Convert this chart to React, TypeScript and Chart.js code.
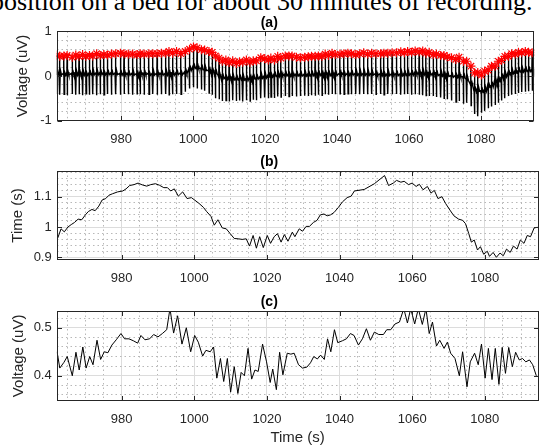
import React, { useEffect, useRef } from "react";
import { Chart, registerables } from "chart.js";

Chart.register(...registerables);

// ---------------- data ----------------
const X_RANGE = [962.1, 1094.8];
const X_TICKS = [980, 1000, 1020, 1040, 1060, 1080];

const A_Y_RANGE = [-1, 1];
const A_Y_TICKS = [-1, 0, 1];
const B_Y_RANGE = [0.891, 1.185];
const B_Y_TICKS = [0.9, 1, 1.1];
const C_Y_RANGE = [0.348, 0.535];
const C_Y_TICKS = [0.4, 0.5];

// beat (R-peak) times, s
const beatTimes = [
  962.2, 962.95, 964.1, 965.0, 966.4, 967.4, 968.3, 969.3, 970.2, 971.2, 972.1, 973.2, 974.2, 975.2, 976.2, 977.3, 978.5, 979.8,
  980.8, 982.0, 983.2, 984.4, 985.3, 986.4, 987.7, 988.8, 990.0, 991.2, 992.4, 993.3, 994.3, 995.4, 996.6, 997.8, 999.0, 1000.1, 1001.1,
  1002.3, 1003.2, 1004.4, 1005.3, 1006.2, 1007.2, 1008.1, 1009.1, 1010.0, 1011.0, 1012.0, 1012.9, 1013.8, 1014.8, 1015.8, 1016.7, 1017.6, 1018.8, 1019.9,
  1020.9, 1021.6, 1022.6, 1023.5, 1024.4, 1025.6, 1026.6, 1027.5, 1028.7, 1029.8, 1031.0, 1032.0, 1032.9, 1033.9, 1034.8, 1035.8, 1036.7, 1037.6, 1038.6, 1039.5,
  1040.8, 1041.9, 1043.0, 1044.0, 1045.2, 1046.3, 1047.4, 1048.5, 1049.6, 1050.8, 1052.1, 1053.0, 1054.1, 1055.3, 1056.5, 1057.7, 1058.7,
  1059.6, 1060.7, 1061.7, 1062.8, 1063.8, 1064.7, 1065.6, 1066.7, 1067.6, 1068.8, 1069.7, 1070.6, 1071.8, 1073.0, 1073.9, 1075.1, 1076.0, 1077.2, 1078.2, 1079.1,
  1080.1, 1081.0, 1082.0, 1082.9, 1083.9, 1084.8, 1085.7, 1086.6, 1087.6, 1088.5, 1089.5, 1090.4, 1091.3, 1092.3, 1093.2, 1094.2,
];

// (a) ECG: R-peak value (red *), baseline level, S-trough per beat, uV
const aPeak = [
  0.47, 0.44, 0.45, 0.46, 0.42, 0.47, 0.44, 0.48, 0.44, 0.46, 0.45, 0.5, 0.46, 0.48, 0.47, 0.49, 0.5, 0.51,
  0.5, 0.49, 0.49, 0.48, 0.5, 0.49, 0.5, 0.5, 0.5, 0.51, 0.51, 0.55, 0.51, 0.55, 0.5, 0.55, 0.6, 0.65, 0.63,
  0.59, 0.58, 0.55, 0.53, 0.45, 0.4, 0.33, 0.36, 0.3, 0.34, 0.28, 0.32, 0.31, 0.36, 0.31, 0.34, 0.34, 0.41, 0.39,
  0.36, 0.4, 0.36, 0.44, 0.4, 0.45, 0.45, 0.45, 0.42, 0.41, 0.42, 0.43, 0.44, 0.44, 0.45, 0.44, 0.49, 0.46, 0.51, 0.48,
  0.49, 0.5, 0.51, 0.5, 0.48, 0.5, 0.52, 0.49, 0.51, 0.5, 0.5, 0.51, 0.51, 0.52, 0.52, 0.54, 0.52,
  0.55, 0.53, 0.56, 0.54, 0.56, 0.51, 0.53, 0.48, 0.49, 0.46, 0.46, 0.43, 0.41, 0.37, 0.42, 0.33, 0.33, 0.22, 0.07, 0.08,
  0.02, 0.11, 0.13, 0.22, 0.22, 0.33, 0.35, 0.44, 0.44, 0.5, 0.49, 0.53, 0.52, 0.55, 0.53, 0.52,
];
const aBase = [
  0.02, 0.02, 0.02, 0.02, 0.02, 0.02, 0.03, 0.02, 0.02, 0.02, 0.03, 0.03, 0.03, 0.03, 0.03, 0.03, 0.03, 0.02,
  0.02, 0.02, 0.02, 0.01, 0.02, 0.02, 0.02, 0.02, 0.02, 0.02, 0.02, 0.02, 0.02, 0.03, 0.03, 0.05, 0.12, 0.17, 0.16,
  0.14, 0.12, 0.09, 0.07, 0.04, -0.03, -0.06, -0.07, -0.07, -0.08, -0.09, -0.08, -0.09, -0.1, -0.08, -0.07, -0.07, -0.05, -0.04,
  -0.03, -0.02, -0.01, -0.01, 0, 0, 0, 0, 0, 0, 0, 0, 0.01, 0.01, 0.01, 0.01, 0.01, 0.01, 0.01, 0.01,
  0.02, 0.02, 0.02, 0.02, 0.02, 0.02, 0.02, 0.02, 0.02, 0.01, 0.01, 0.01, 0.01, 0.01, 0.01, 0.01, 0.01,
  0.02, 0.02, 0.03, 0.03, 0.03, 0.02, 0.02, 0.02, 0.01, 0, -0.01, -0.01, -0.03, -0.03, -0.03, -0.05, -0.1, -0.22, -0.35, -0.34,
  -0.37, -0.34, -0.26, -0.24, -0.16, -0.13, -0.06, -0.02, 0.02, 0.05, 0.06, 0.09, 0.09, 0.1, 0.1, 0.1,
];
const aTrough = [
  -0.4, -0.42, -0.41, -0.43, -0.4, -0.42, -0.41, -0.43, -0.4, -0.42, -0.41, -0.43, -0.41, -0.42, -0.4, -0.42, -0.41, -0.42,
  -0.4, -0.41, -0.42, -0.4, -0.41, -0.42, -0.41, -0.4, -0.42, -0.41, -0.4, -0.42, -0.41, -0.4, -0.41, -0.35, -0.28, -0.25, -0.28,
  -0.3, -0.33, -0.38, -0.42, -0.5, -0.52, -0.56, -0.55, -0.57, -0.54, -0.56, -0.55, -0.57, -0.54, -0.56, -0.53, -0.54, -0.5, -0.48,
  -0.5, -0.47, -0.49, -0.46, -0.47, -0.45, -0.46, -0.45, -0.46, -0.45, -0.44, -0.45, -0.43, -0.44, -0.42, -0.43, -0.41, -0.42, -0.4, -0.41,
  -0.4, -0.41, -0.4, -0.41, -0.4, -0.41, -0.4, -0.41, -0.4, -0.41, -0.4, -0.42, -0.4, -0.41, -0.4, -0.42, -0.41,
  -0.4, -0.42, -0.41, -0.42, -0.43, -0.44, -0.45, -0.45, -0.47, -0.48, -0.5, -0.52, -0.55, -0.58, -0.56, -0.62, -0.6, -0.66, -0.85, -0.9,
  -0.82, -0.78, -0.72, -0.68, -0.65, -0.6, -0.55, -0.5, -0.45, -0.42, -0.4, -0.38, -0.36, -0.35, -0.34, -0.33,
];
// wave shape used inside each beat (time offset s, which level)
const BEAT_SHAPE: [number, "base" | "peak" | "trough" | "t" | "p"][] = [
  [-0.2, "p"], [-0.12, "base"], [-0.04, "base"], [0, "peak"], [0.05, "trough"], [0.11, "base"], [0.3, "t"], [0.5, "base"],
];
const T_WAVE = 0.07;
const P_WAVE = 0.04;

// (b) interval series
const bTimes = [
  962.4, 963.3, 964.2, 965.2, 966.1, 967.0, 968.0, 969.0, 970.0, 970.8, 971.8, 972.7, 973.7, 974.6, 975.6, 976.5, 977.5, 978.9, 980.3, 981.2,
  982.2, 983.4, 984.5, 985.7, 986.9, 988.0, 989.3, 990.4, 991.6, 992.6, 993.5, 994.5, 995.6, 996.8, 998.0, 999.2, 1000.1, 1001.3, 1002.5, 1003.4,
  1004.6, 1005.5, 1006.5, 1007.7, 1008.8, 1009.9, 1011.0, 1012.1, 1013.2, 1014.3, 1015.2, 1016.2, 1017.1, 1018.0, 1019.0, 1020.1, 1021.0, 1022.0, 1022.9, 1023.9,
  1024.8, 1025.8, 1027.0, 1027.7, 1028.9, 1029.8, 1030.8, 1031.7, 1032.8, 1033.8, 1034.7, 1035.7, 1036.6, 1037.5, 1038.5, 1039.7, 1040.8, 1042.1, 1043.2, 1044.1,
  1046.8, 1049.6, 1052.4, 1053.5, 1054.8, 1055.7, 1056.9, 1057.8, 1059.0, 1060.0, 1061.1, 1062.0, 1063.0, 1064.2, 1065.2, 1066.1, 1067.1, 1068.2, 1069.2, 1070.4,
  1071.5, 1072.8, 1073.9, 1074.7, 1075.6, 1076.3, 1077.1, 1078.0, 1078.8, 1079.7, 1080.7, 1081.3, 1082.3, 1083.2, 1084.2, 1085.1, 1086.0, 1087.0, 1087.9, 1088.9,
  1089.8, 1090.8, 1091.7, 1092.6, 1093.6, 1094.5,
];
const bValues = [
  0.964, 0.994, 0.984, 1.0, 1.008, 1.015, 1.026, 1.024, 1.04, 1.051,
  1.058, 1.054, 1.069, 1.089, 1.094, 1.105, 1.11, 1.116, 1.119, 1.126,
  1.137, 1.14, 1.145, 1.139, 1.135, 1.14, 1.143, 1.138, 1.13, 1.13,
  1.119, 1.126, 1.102, 1.116, 1.094, 1.097, 1.089, 1.078, 1.065, 1.051,
  1.035, 1.006, 1.024, 0.997, 0.994, 0.978, 0.962, 0.961, 0.959, 0.961,
  0.937, 0.972, 0.93, 0.968, 0.932, 0.972, 0.946, 0.968, 0.978, 0.95,
  0.975, 0.953, 0.983, 0.968, 0.994, 0.986, 1.002, 1.002, 1.015, 1.022,
  1.04, 1.043, 1.037, 1.04, 1.048, 1.065, 1.083, 1.097, 1.102, 1.119,
  1.124, 1.143, 1.17, 1.137, 1.145, 1.154, 1.148, 1.151, 1.14, 1.145,
  1.134, 1.141, 1.123, 1.134, 1.112, 1.121, 1.094, 1.1, 1.078, 1.056,
  1.037, 1.026, 1.022, 1.011, 0.978, 0.95, 0.957, 0.924, 0.935, 0.91,
  0.92, 0.903, 0.916, 0.9, 0.914, 0.905, 0.927, 0.916, 0.937, 0.927,
  0.957, 0.946, 0.972, 0.968, 0.997, 0.999,
];

// (c) amplitude series, per beat
const cValues = [
  0.45, 0.416, 0.428, 0.44, 0.4, 0.449, 0.412, 0.46, 0.416, 0.44, 0.423, 0.474, 0.434, 0.45, 0.448, 0.464, 0.475, 0.488,
  0.477, 0.477, 0.473, 0.468, 0.484, 0.475, 0.477, 0.486, 0.481, 0.488, 0.496, 0.54, 0.489, 0.525, 0.466, 0.5, 0.45, 0.484, 0.47,
  0.441, 0.453, 0.45, 0.46, 0.395, 0.436, 0.388, 0.436, 0.366, 0.419, 0.363, 0.407, 0.4, 0.457, 0.393, 0.412, 0.409, 0.466, 0.429,
  0.386, 0.414, 0.371, 0.449, 0.402, 0.447, 0.445, 0.447, 0.423, 0.416, 0.418, 0.427, 0.44, 0.435, 0.443, 0.434, 0.477, 0.45, 0.496, 0.469,
  0.473, 0.477, 0.488, 0.484, 0.464, 0.477, 0.498, 0.474, 0.491, 0.486, 0.486, 0.496, 0.496, 0.508, 0.512, 0.54, 0.51,
  0.54, 0.508, 0.54, 0.507, 0.54, 0.488, 0.512, 0.462, 0.474, 0.457, 0.47, 0.447, 0.436, 0.4, 0.45, 0.377, 0.429, 0.447, 0.423, 0.466,
  0.395, 0.457, 0.392, 0.457, 0.382, 0.459, 0.405, 0.459, 0.419, 0.449, 0.433, 0.436, 0.429, 0.433, 0.423, 0.4,
];

// ---------------- styling ----------------
const FONT = "'Liberation Sans', Arial, Helvetica, sans-serif";
const AXIS_COLOR = "#262626";
const MAJOR_GRID = "#dcdcdc";
const MINOR_GRID = "#b8b8b8";

const near = (v: number, step: number) => Math.abs(v / step - Math.round(v / step)) < 1e-6;

const boxPlugin = {
  id: "matlabBox",
  afterDatasetsDraw(chart: any) {
    const { ctx, chartArea } = chart;
    const L = Math.round(chartArea.left) + 0.5;
    const R = Math.round(chartArea.right) - 0.5;
    const T = Math.round(chartArea.top) + 0.5;
    const B = Math.round(chartArea.bottom) - 0.5;
    ctx.save();
    ctx.strokeStyle = AXIS_COLOR;
    ctx.lineWidth = 1;
    ctx.strokeRect(L, T, R - L, B - T);
    const tl = 4.5;
    ctx.beginPath();
    for (const t of chart.scales.x.ticks) {
      const px = Math.round(chart.scales.x.getPixelForValue(t.value)) + 0.5;
      ctx.moveTo(px, B); ctx.lineTo(px, B - tl);
      ctx.moveTo(px, T); ctx.lineTo(px, T + tl);
    }
    for (const t of chart.scales.y.ticks) {
      const py = Math.round(chart.scales.y.getPixelForValue(t.value)) + 0.5;
      ctx.moveTo(L, py); ctx.lineTo(L + tl, py);
      ctx.moveTo(R, py); ctx.lineTo(R - tl, py);
    }
    ctx.stroke();
    ctx.restore();
  },
};

type PanelOpts = {
  title: string;
  datasets: any[];
  yRange: number[];
  yTicks: number[];
  yMinor: number;
  yTitle: string;
  yTitlePad: number;
  padTop: number;
  xAxisHeight: number;
  xTitle?: string;
};

function makeConfig(o: PanelOpts): any {
  const tickFont = { family: FONT, size: 13 };
  const labelFont = { family: FONT, size: 15, lineHeight: 1 };
  return {
    type: "line",
    data: { datasets: o.datasets },
    plugins: [boxPlugin],
    options: {
      animation: false,
      responsive: false,
      events: [],
      parsing: false,
      layout: { padding: { top: o.padTop, right: 1.5, left: 0, bottom: 0 } },
      plugins: {
        legend: { display: false },
        tooltip: { enabled: false },
        title: {
          display: true,
          text: o.title,
          color: "#000",
          font: { family: FONT, size: 14, weight: "bold", lineHeight: 1.2 },
          padding: 0,
        },
      },
      scales: {
        x: {
          type: "linear",
          position: "bottom",
          min: X_RANGE[0],
          max: X_RANGE[1],
          afterBuildTicks: (s: any) => { s.ticks = X_TICKS.map((v) => ({ value: v })); },
          afterFit: (s: any) => { s.height = o.xAxisHeight; },
          ticks: {
            autoSkip: false, maxRotation: 0, padding: 11, color: AXIS_COLOR, font: tickFont,
            callback: (v: number) => String(v),
          },
          grid: { color: MAJOR_GRID, lineWidth: 1, drawTicks: false },
          border: { display: false },
          title: o.xTitle
            ? { display: true, text: o.xTitle, color: AXIS_COLOR, font: labelFont, padding: { top: 0, bottom: 1 } }
            : { display: false },
        },
        xMinor: {
          type: "linear",
          position: "bottom",
          min: X_RANGE[0],
          max: X_RANGE[1],
          afterFit: (s: any) => { s.height = 0; },
          ticks: { display: false, stepSize: 5, includeBounds: false, autoSkip: false },
          grid: {
            drawTicks: false,
            lineWidth: 1,
            color: (c: any) => (c.tick && near(c.tick.value, 20) ? "rgba(0,0,0,0)" : MINOR_GRID),
          },
          border: { display: false, dash: [1.5, 3] },
        },
        y: {
          type: "linear",
          position: "left",
          min: o.yRange[0],
          max: o.yRange[1],
          afterBuildTicks: (s: any) => { s.ticks = o.yTicks.map((v) => ({ value: v })); },
          afterFit: (s: any) => { s.width = 56.7; },
          ticks: {
            autoSkip: false, padding: 5, color: AXIS_COLOR, font: tickFont,
            callback: (v: number) => String(Math.round(v * 100) / 100),
          },
          grid: { color: MAJOR_GRID, lineWidth: 1, drawTicks: false },
          border: { display: false },
          title: { display: true, text: o.yTitle, color: AXIS_COLOR, font: labelFont, padding: { top: o.yTitlePad, bottom: 0 } },
        },
        yMinor: {
          type: "linear",
          position: "left",
          min: o.yRange[0],
          max: o.yRange[1],
          afterFit: (s: any) => { s.width = 0; },
          ticks: { display: false, stepSize: o.yMinor, includeBounds: false, autoSkip: false },
          grid: {
            drawTicks: false,
            lineWidth: 1,
            color: (c: any) => (c.tick && near(c.tick.value, o.yMinor * 5) ? "rgba(0,0,0,0)" : MINOR_GRID),
          },
          border: { display: false, dash: [1.5, 3] },
        },
      },
    },
  };
}

function ecgPoints() {
  const pts: { x: number; y: number }[] = [];
  beatTimes.forEach((t, i) => {
    for (const [dt, kind] of BEAT_SHAPE) {
      const y =
        kind === "peak" ? aPeak[i]
        : kind === "trough" ? aTrough[i]
        : kind === "t" ? aBase[i] + T_WAVE
        : kind === "p" ? aBase[i] + P_WAVE
        : aBase[i];
      pts.push({ x: t + dt, y });
    }
  });
  return pts;
}

const lineDs = (data: { x: number; y: number }[], width = 1) => ({
  data,
  borderColor: "#000",
  borderWidth: width,
  pointRadius: 0,
  tension: 0,
  fill: false,
});

function Panel({ top, height, build }: { top: number; height: number; build: () => any }) {
  const ref = useRef<HTMLCanvasElement>(null);
  useEffect(() => {
    const chart = new Chart(ref.current as HTMLCanvasElement, build());
    return () => chart.destroy();
  }, []);
  return (
    <canvas
      ref={ref}
      width={540}
      height={height}
      style={{ position: "absolute", left: 0, top, width: 540, height, display: "block" }}
    />
  );
}

export default function App() {
  const buildA = () =>
    makeConfig({
      title: "(a)",
      datasets: [
        {
          data: beatTimes.map((t, i) => ({ x: t, y: aPeak[i] })),
          showLine: false,
          pointStyle: "star",
          pointRadius: 4.5,
          pointBorderColor: "#ff0000",
          pointBackgroundColor: "#ff0000",
          pointBorderWidth: 1.2,
          borderColor: "#ff0000",
          order: 0,
        },
        { ...lineDs(ecgPoints(), 1.4), order: 1 },
      ],
      yRange: A_Y_RANGE,
      yTicks: A_Y_TICKS,
      yMinor: 0.2,
      yTitle: "Voltage (uV)",
      yTitlePad: 15,
      padTop: 14.5,
      xAxisHeight: 24.3,
    });
  const buildB = () =>
    makeConfig({
      title: "(b)",
      datasets: [lineDs(bTimes.map((t, i) => ({ x: t, y: bValues[i] })))],
      yRange: B_Y_RANGE,
      yTicks: B_Y_TICKS,
      yMinor: 0.02,
      yTitle: "Time (s)",
      yTitlePad: 10,
      padTop: 9.2,
      xAxisHeight: 30,
    });
  const buildC = () =>
    makeConfig({
      title: "(c)",
      datasets: [lineDs(beatTimes.map((t, i) => ({ x: t, y: cValues[i] })))],
      yRange: C_Y_RANGE,
      yTicks: C_Y_TICKS,
      yMinor: 0.02,
      yTitle: "Voltage (uV)",
      yTitlePad: 11,
      padTop: 4.2,
      xAxisHeight: 45.3,
      xTitle: "Time (s)",
    });

  return (
    <div style={{ position: "absolute", left: 0, top: 0, width: 540, height: 446, overflow: "hidden", background: "#fff" }}>
      <div
        style={{
          position: "absolute",
          left: -9,
          top: -13,
          whiteSpace: "nowrap",
          fontFamily: "'Liberation Serif', 'Times New Roman', serif",
          fontSize: 26,
          lineHeight: "30px",
          color: "#000",
        }}
      >
        position on a bed for about 30 minutes of recording.
      </div>
      <Panel top={0} height={145} build={buildA} />
      <Panel top={145} height={145} build={buildB} />
      <Panel top={290} height={156} build={buildC} />
    </div>
  );
}
